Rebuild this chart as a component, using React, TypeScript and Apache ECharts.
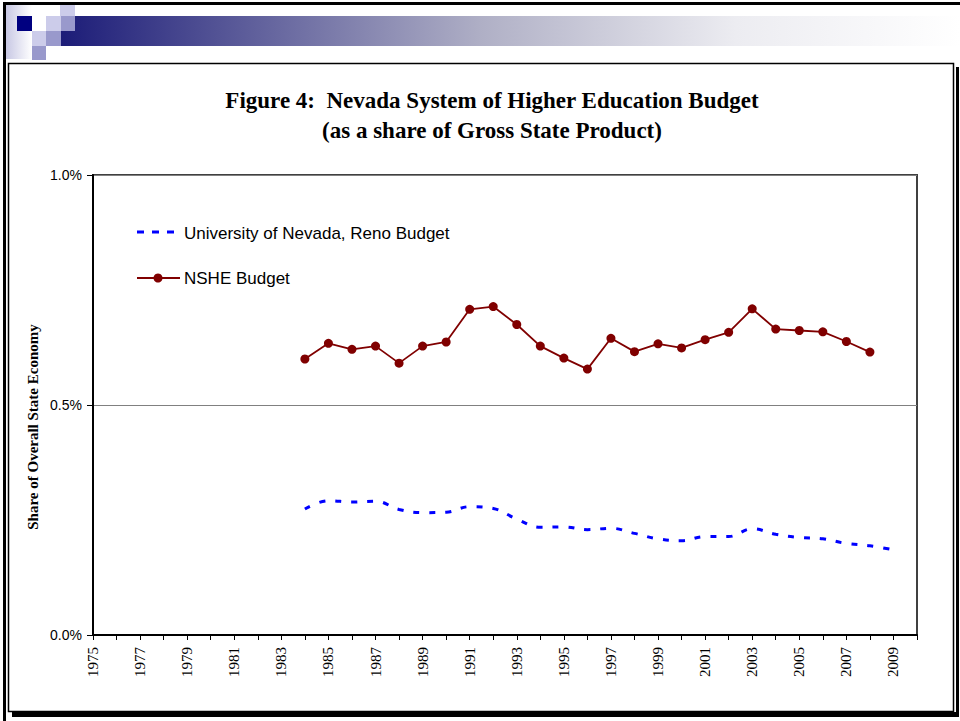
import React, { useEffect, useRef } from "react";
import * as echarts from "echarts";

const years = [
  "1975", "1976", "1977", "1978", "1979", "1980", "1981", "1982", "1983", "1984",
  "1985", "1986", "1987", "1988", "1989", "1990", "1991", "1992", "1993", "1994",
  "1995", "1996", "1997", "1998", "1999", "2000", "2001", "2002", "2003", "2004",
  "2005", "2006", "2007", "2008", "2009", "2010",
];

const yTickLabels = ["0.0%", "0.5%", "1.0%"];

const titleLines = [
  "Figure 4:  Nevada System of Higher Education Budget",
  "(as a share of Gross State Product)",
];
const yAxisTitle = "Share of Overall State Economy";
const unrName = "University of Nevada, Reno Budget";
const nsheName = "NSHE Budget";

// share of Gross State Product, in percent
const unrFirstYear = "1984";
const unrBudget = [
  0.274, 0.292, 0.289, 0.291, 0.273, 0.266, 0.267, 0.279, 0.275, 0.252, 0.234, 0.235, 0.229,
  0.232, 0.221, 0.209, 0.205, 0.214, 0.214, 0.231, 0.219, 0.212, 0.209, 0.199, 0.194, 0.185,
];

const nsheFirstYear = "1984";
const nsheBudget = [
  0.600, 0.634, 0.621, 0.628, 0.591, 0.628, 0.637, 0.708, 0.714, 0.675, 0.628, 0.602, 0.578,
  0.645, 0.616, 0.633, 0.624, 0.642, 0.658, 0.709, 0.665, 0.662, 0.659, 0.638, 0.615,
];

function align(first: string, values: number[]) {
  const start = years.indexOf(first);
  return years.map((_, i) => {
    const k = i - start;
    return k >= 0 && k < values.length ? values[k] : null;
  });
}

export default function App() {
  const ref = useRef<HTMLDivElement>(null);

  useEffect(() => {
    document.body.style.margin = "0";
    const chart = echarts.init(ref.current!, undefined, { renderer: "svg" });

    const sq = (x: number, y: number, w: number, h: number, fill: string) => ({
      type: "rect",
      shape: { x, y, width: w, height: h },
      style: { fill },
      silent: true,
    });

    const serif = "'Liberation Serif', 'Times New Roman', serif";
    const sans = "'Liberation Sans', Arial, sans-serif";

    const option: any = {
      animation: false,
      backgroundColor: "#ffffff",
      grid: {
        left: 93,
        right: 43,
        top: 175,
        bottom: 86,
        show: true,
        borderColor: "#404040",
        borderWidth: 2,
        backgroundColor: "transparent",
      },
      xAxis: {
        type: "category",
        data: years,
        boundaryGap: false,
        axisLine: { show: true, lineStyle: { color: "#000", width: 2 } },
        axisTick: {
          show: true,
          interval: 0,
          length: 5,
          lineStyle: { color: "#000", width: 1 },
        },
        axisLabel: {
          rotate: 90,
          interval: (index: number) => index % 2 === 0,
          margin: 12,
          fontFamily: serif,
          fontSize: 15,
          color: "#000",
        },
        splitLine: { show: false },
      },
      yAxis: {
        type: "value",
        min: 0,
        max: 1,
        interval: 0.5,
        axisLine: { show: true, lineStyle: { color: "#000", width: 2 } },
        axisTick: { show: true, length: 6, lineStyle: { color: "#000" } },
        axisLabel: {
          formatter: (v: number) => yTickLabels[Math.round(v * 2)],
          fontFamily: sans,
          fontSize: 14,
          color: "#000",
          margin: 11,
        },
        splitLine: { show: true, lineStyle: { color: "#808080", width: 1 } },
      },
      series: [
        {
          name: unrName,
          type: "line",
          data: align(unrFirstYear, unrBudget),
          smooth: 0.4,
          showSymbol: false,
          symbol: "none",
          lineStyle: { color: "#0000ff", width: 3, type: [6, 10] },
          itemStyle: { color: "#0000ff" },
          z: 3,
        },
        {
          name: nsheName,
          type: "line",
          data: align(nsheFirstYear, nsheBudget),
          symbol: "circle",
          symbolSize: 9,
          lineStyle: { color: "#800000", width: 1.8 },
          itemStyle: { color: "#800000" },
          z: 4,
        },
      ],
      graphic: [
        // outer slide frame
        sq(3, 2, 957, 3, "#000"),
        sq(3, 2, 3, 719, "#000"),
        // chart box shadow
        sq(956, 67, 3, 650, "#000"),
        sq(12, 712, 947, 5, "#000"),
        {
          type: "rect",
          shape: { x: 8.5, y: 63.5, width: 945, height: 648 },
          style: { fill: "none", stroke: "#000", lineWidth: 1.5 },
          silent: true,
        },
        // header decoration
        {
          type: "rect",
          shape: { x: 6, y: 5, width: 26, height: 54 },
          style: {
            fill: new echarts.graphic.LinearGradient(0, 0, 1, 0, [
              { offset: 0, color: "#c8c8e4" },
              { offset: 1, color: "#ffffff" },
            ]),
          },
          silent: true,
        },
        {
          type: "rect",
          shape: { x: 61, y: 16, width: 899, height: 30 },
          style: {
            fill: new echarts.graphic.LinearGradient(0, 0, 1, 0, [
              { offset: 0, color: "#1c1c78" },
              { offset: 0.47, color: "#b0b0c6" },
              { offset: 0.75, color: "#ececf1" },
              { offset: 1, color: "#ffffff" },
            ]),
          },
          silent: true,
        },
        sq(60, 5, 15, 11, "#ccccea"),
        sq(17, 16, 15, 15, "#000080"),
        sq(32, 16, 14, 15, "#ffffff"),
        sq(46, 16, 15, 15, "#ccccea"),
        sq(61, 16, 14, 15, "#9999cc"),
        sq(32, 31, 14, 15, "#ccccea"),
        sq(46, 31, 15, 15, "#9999cc"),
        sq(32, 46, 14, 14, "#9999cc"),
        // titles
        {
          type: "text",
          x: 492,
          y: 100,
          style: {
            text: titleLines[0],
            fontFamily: serif,
            fontWeight: "bold",
            fontSize: 23,
            fill: "#000",
            align: "center",
            verticalAlign: "middle",
          },
        },
        {
          type: "text",
          x: 492,
          y: 130,
          style: {
            text: titleLines[1],
            fontFamily: serif,
            fontWeight: "bold",
            fontSize: 23,
            fill: "#000",
            align: "center",
            verticalAlign: "middle",
          },
        },
        {
          type: "text",
          x: 33,
          y: 427,
          rotation: Math.PI / 2,
          style: {
            text: yAxisTitle,
            fontFamily: serif,
            fontWeight: "bold",
            fontSize: 15,
            fill: "#000",
            align: "center",
            verticalAlign: "middle",
          },
        },
        // legend
        {
          type: "line",
          shape: { x1: 137, y1: 232, x2: 177, y2: 232 },
          style: { stroke: "#0000ff", lineWidth: 3, lineDash: [7, 8] },
        },
        {
          type: "text",
          x: 184,
          y: 233,
          style: {
            text: unrName,
            fontFamily: sans,
            fontSize: 17,
            fill: "#000",
            align: "left",
            verticalAlign: "middle",
          },
        },
        {
          type: "line",
          shape: { x1: 137, y1: 278, x2: 180, y2: 278 },
          style: { stroke: "#800000", lineWidth: 1.8 },
        },
        {
          type: "circle",
          shape: { cx: 158, cy: 278, r: 4.5 },
          style: { fill: "#800000" },
        },
        {
          type: "text",
          x: 184,
          y: 278,
          style: {
            text: nsheName,
            fontFamily: sans,
            fontSize: 17,
            fill: "#000",
            align: "left",
            verticalAlign: "middle",
          },
        },
      ],
    };

    chart.setOption(option);
    return () => chart.dispose();
  }, []);

  return (
    <div
      ref={ref}
      style={{ position: "fixed", left: 0, top: 0, width: 960, height: 721 }}
    />
  );
}
